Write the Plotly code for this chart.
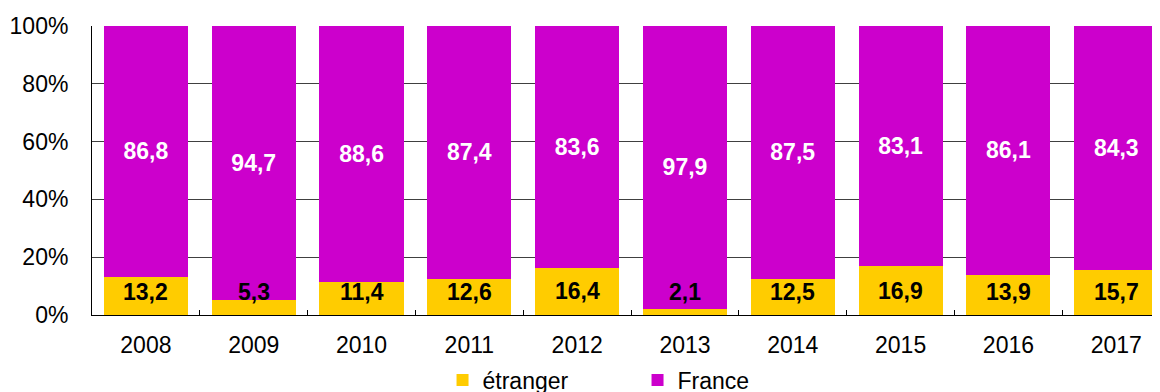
import plotly.graph_objects as go

years = ["2008", "2009", "2010", "2011", "2012", "2013", "2014", "2015", "2016", "2017"]
etranger = [13.2, 5.3, 11.4, 12.6, 16.4, 2.1, 12.5, 16.9, 13.9, 15.7]
france = [86.8, 94.7, 88.6, 87.4, 83.6, 97.9, 87.5, 83.1, 86.1, 84.3]

YELLOW = "#FFCC00"
MAGENTA = "#CC00CC"
FONT = "Arial, Liberation Sans, sans-serif"
FS = 23


def fr(v):
    return f"{v:.1f}".replace(".", ",")


fig = go.Figure()
fig.add_trace(go.Bar(
    x=years, y=etranger, name="étranger", marker=dict(color=YELLOW, line_width=0),
    width=0.78, hoverinfo="skip",
))
fig.add_trace(go.Bar(
    x=years, y=france, name="France", marker=dict(color=MAGENTA, line_width=0),
    width=0.78, text=[fr(v) for v in france], textposition="inside",
    insidetextanchor="middle", textangle=0, constraintext="none",
    textfont=dict(family=FONT, size=FS, color="white", weight="bold"),
    hoverinfo="skip",
))

# étranger labels sit low in the bar, even when the segment is too thin
# (x given as category index: "2008" would be read as index 2008)
for i, v in enumerate(etranger):
    fig.add_annotation(
        x=i, y=max(v / 2, 8), xref="x", yref="y", text=f"<b>{fr(v)}</b>",
        showarrow=False, font=dict(family=FONT, size=FS, color="black"),
    )

fig.update_layout(
    barmode="stack",
    width=1160, height=392,
    margin=dict(l=84, r=0, t=18, b=85),
    paper_bgcolor="white", plot_bgcolor="white",
    font=dict(family=FONT, size=FS, color="black"),
    showlegend=True,
    legend=dict(
        orientation="h", x=0.507, xanchor="center",
        yref="container", y=0.106, yanchor="top",
        font=dict(family=FONT, size=FS), entrywidth=150, traceorder="normal",
    ),
)
fig.update_xaxes(
    type="category", range=[-0.5, 9.48], showline=True, linecolor="black", linewidth=1,
    ticks="inside", tickson="boundaries", ticklen=5, tickcolor="black",
    showgrid=False, ticklabelstandoff=9,
)
fig.update_yaxes(
    range=[0, 100], tickvals=[0, 20, 40, 60, 80, 100],
    ticktext=["0%", "20%", "40%", "60%", "80%", "100%"],
    showline=True, linecolor="black", linewidth=1,
    showgrid=True, gridcolor="#404040", gridwidth=1,
    ticks="", ticklabelstandoff=18, zeroline=False,
)

fig.write_html("out.html")
